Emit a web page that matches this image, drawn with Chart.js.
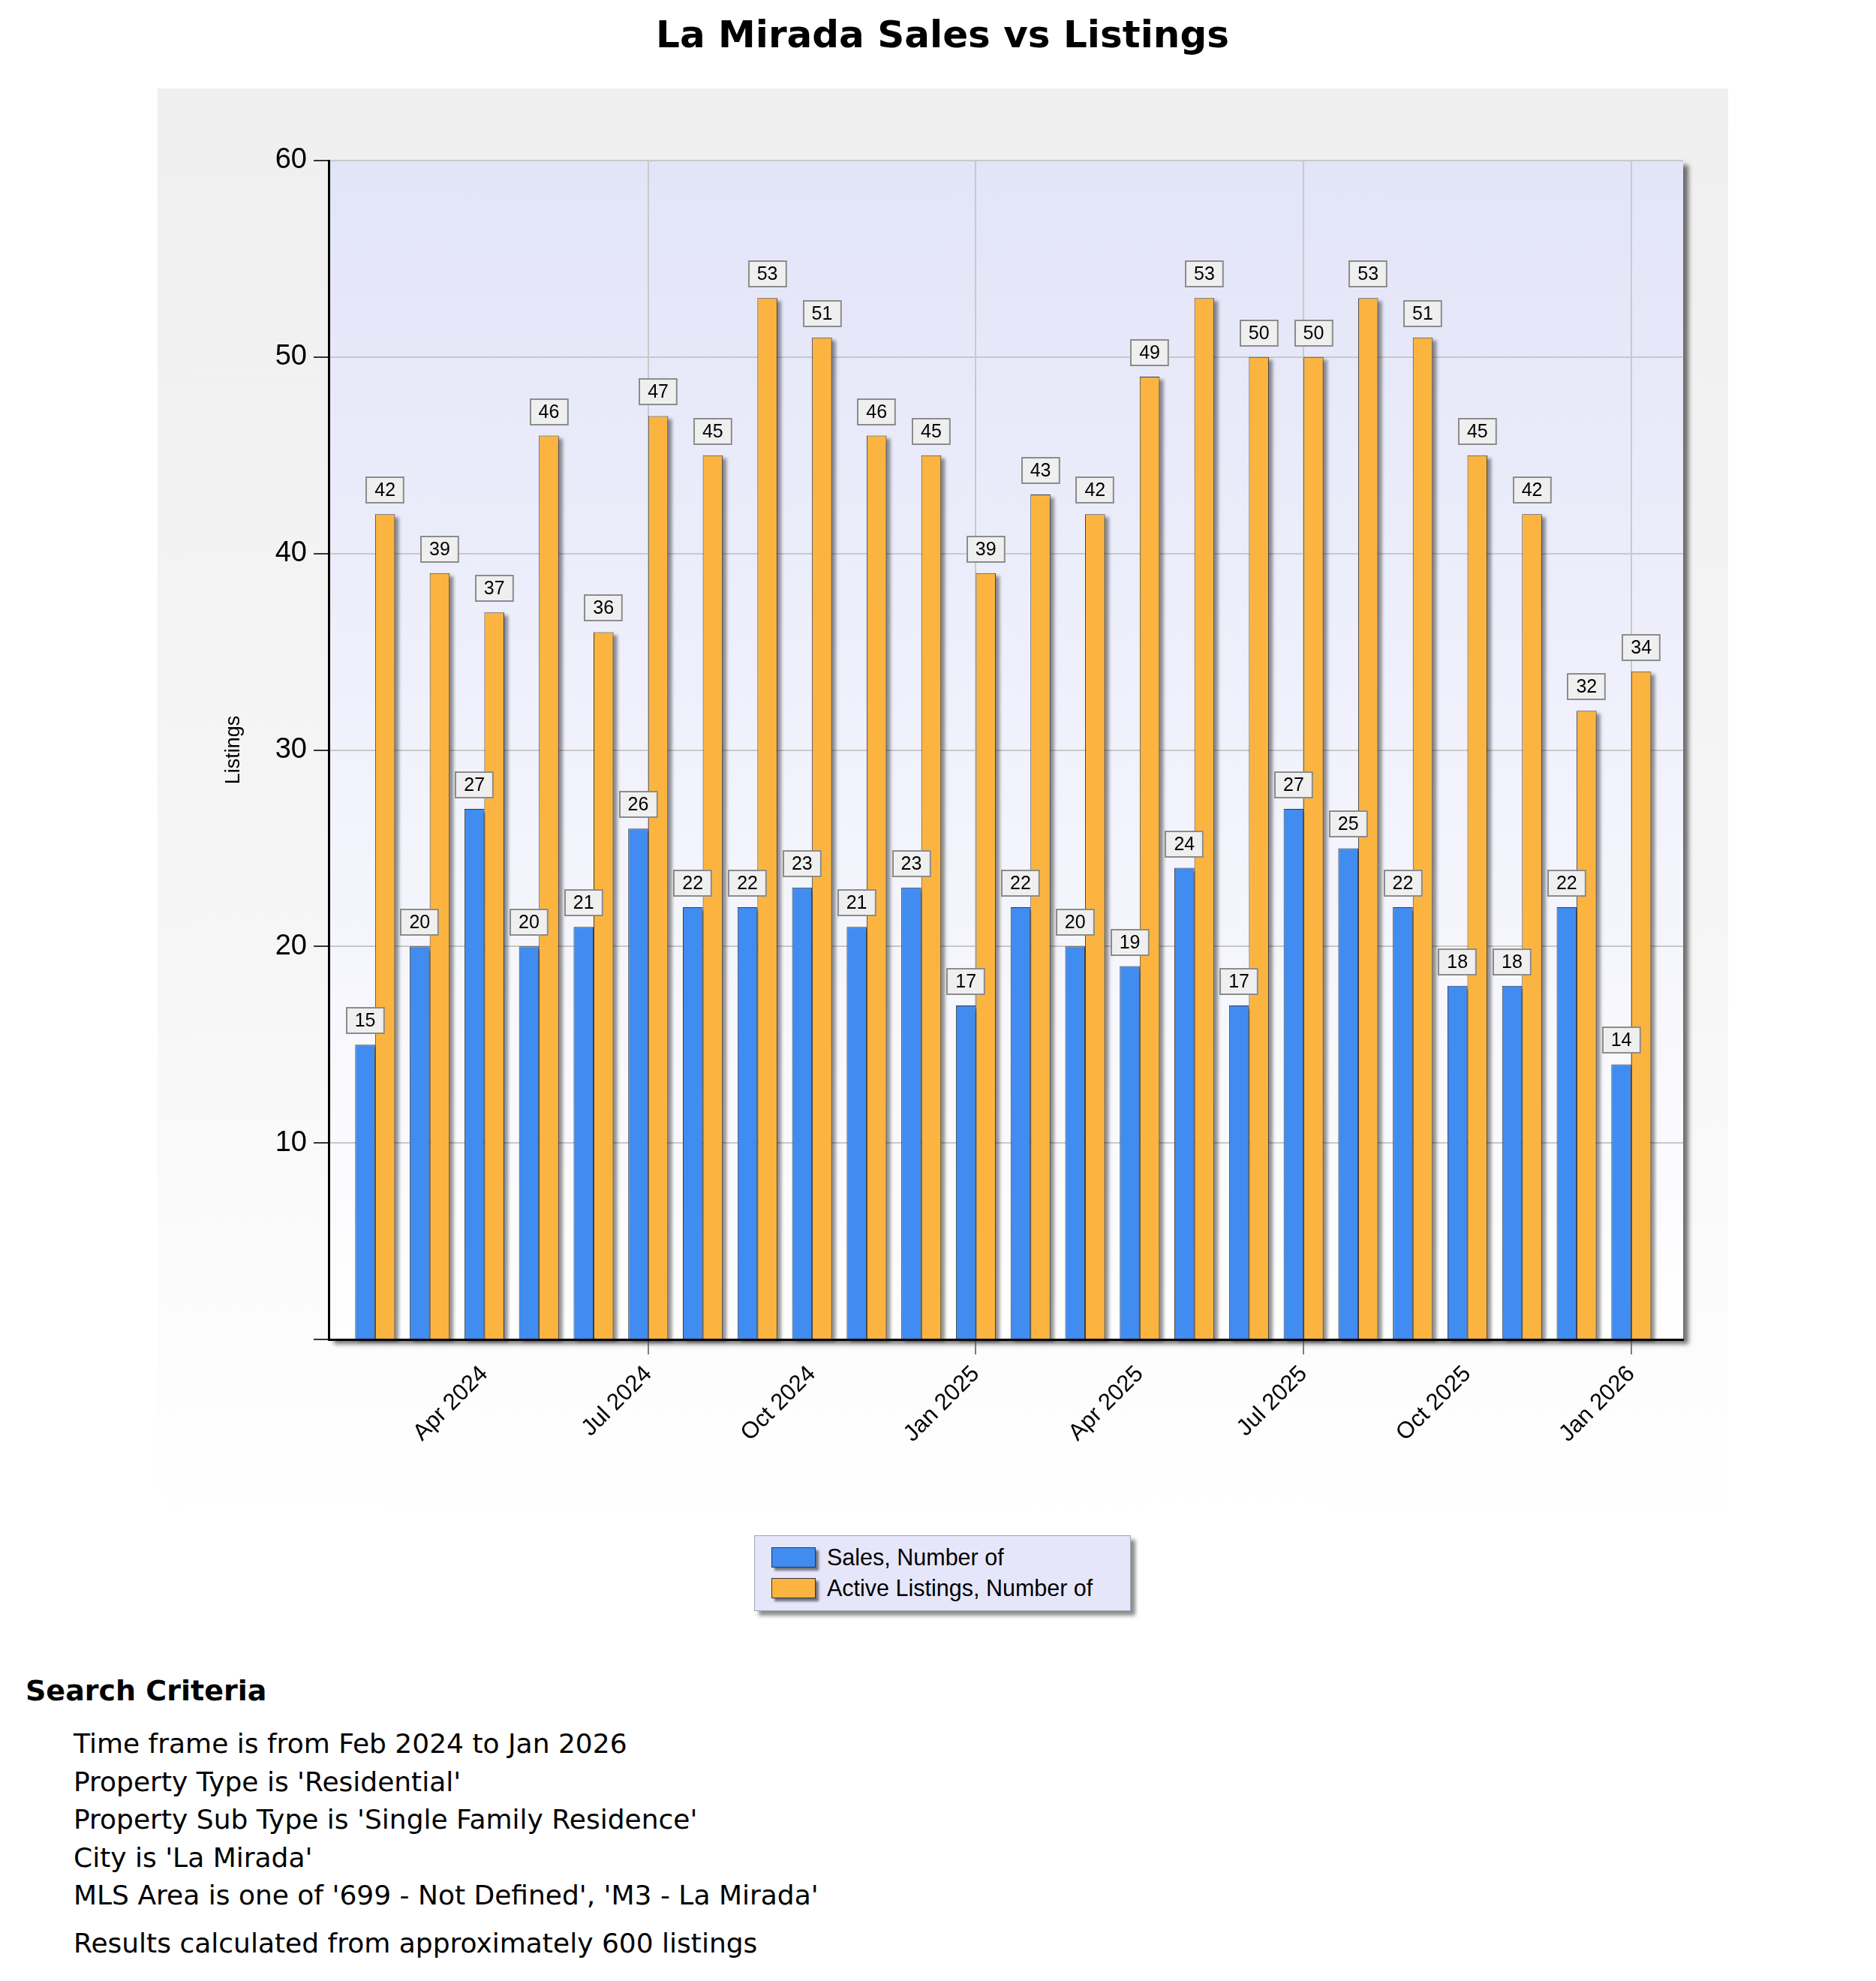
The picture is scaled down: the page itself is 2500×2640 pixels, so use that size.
<!DOCTYPE html>
<html>
<head>
<meta charset="utf-8">
<title>La Mirada Sales vs Listings</title>
<script src="https://cdn.jsdelivr.net/npm/chart.js@4.4.1/dist/chart.umd.min.js"></script>
<style>
  body { margin: 0; background: #fff; width: 2500px; height: 2640px; position: relative; overflow: hidden; }
  #title { position: absolute; left: 0; width: 2512px; top: 17px; line-height: 60px; text-align: center;
           font: bold 50px "DejaVu Sans", Verdana, sans-serif; color: #000; }
  #panel { position: absolute; left: 210px; top: 118px; width: 2093px; height: 1900px;
           background: linear-gradient(to bottom, #efefef 0%, #f6f6f6 60%, #ffffff 100%); }
  #legend { position: absolute; left: 1005px; top: 2046px; width: 502px; height: 101px; box-sizing: border-box;
            background: #e6e6fa; border: 1px solid #a4a4b4; box-shadow: 6px 6px 5px rgba(0,0,0,0.45); }
  .row { position: absolute; left: 22px; height: 30px; display: flex; align-items: center;
         font: 30.5px "Liberation Sans", Arial, sans-serif; color: #000; }
  .sw { width: 59px; height: 27px; box-sizing: border-box; border: 1px solid #333; margin-right: 15px;
        box-shadow: 4px 4px 3px rgba(0,0,0,0.5); }
  #criteria { position: absolute; left: 34px; top: 2229px; font-family: "DejaVu Sans", Verdana, sans-serif; color: #000; }
  #criteria h2 { margin: 0 0 22px 0; font-size: 38px; line-height: 48px; font-weight: bold; }
  #criteria div { margin-left: 64px; font-size: 36px; line-height: 50.5px; }
  #criteria .last { margin-top: 13px; }
</style>
</head>
<body>
<div id="title">La Mirada Sales vs Listings</div>
<div id="panel"><canvas id="chart" width="2093" height="1900"></canvas></div>
<div id="legend"></div>
<div id="criteria"></div>

<script>
const months = ['Feb 2024', 'Mar 2024', 'Apr 2024', 'May 2024', 'Jun 2024', 'Jul 2024',
                'Aug 2024', 'Sep 2024', 'Oct 2024', 'Nov 2024', 'Dec 2024', 'Jan 2025',
                'Feb 2025', 'Mar 2025', 'Apr 2025', 'May 2025', 'Jun 2025', 'Jul 2025',
                'Aug 2025', 'Sep 2025', 'Oct 2025', 'Nov 2025', 'Dec 2025', 'Jan 2026'];
const salesCounts = [15, 20, 27, 20, 21, 26, 22, 22, 23, 21, 23, 17,
                     22, 20, 19, 24, 17, 27, 25, 22, 18, 18, 22, 14];
const activeListings = [42, 39, 37, 46, 36, 47, 45, 53, 51, 46, 45, 39,
                        43, 42, 49, 53, 50, 50, 53, 51, 45, 42, 32, 34];
const seriesNames = ['Sales, Number of', 'Active Listings, Number of'];
const seriesColors = ['#418cf0', '#fcb441'];
const xTickLabels = ['Apr 2024', 'Jul 2024', 'Oct 2024', 'Jan 2025', 'Apr 2025', 'Jul 2025', 'Oct 2025', 'Jan 2026'];
const xGridLabels = ['Jul 2024', 'Jan 2025', 'Jul 2025', 'Jan 2026'];
const yTicks = [0, 10, 20, 30, 40, 50, 60];
const criteriaLines = [
  'Time frame is from Feb 2024 to Jan 2026',
  "Property Type is 'Residential'",
  "Property Sub Type is 'Single Family Residence'",
  "City is 'La Mirada'",
  "MLS Area is one of '699 - Not Defined', 'M3 - La Mirada'"
];
const resultsLine = 'Results calculated from approximately 600 listings';

const FONT = '"Liberation Sans", Arial, sans-serif';
Chart.defaults.font.family = FONT;
Chart.defaults.color = '#000';

function isGridTick(ctx) {
  return ctx.tick && xGridLabels.includes(months[ctx.tick.value]);
}

// plot area background with drop shadow
const plotBackground = {
  id: 'plotBackground',
  beforeDraw(chart) {
    const { ctx, chartArea: a } = chart;
    ctx.save();
    const g = ctx.createLinearGradient(0, a.top, 0, a.bottom);
    g.addColorStop(0, '#e2e4f8');
    g.addColorStop(1, '#ffffff');
    ctx.shadowColor = 'rgba(0,0,0,0.55)';
    ctx.shadowOffsetX = 7;
    ctx.shadowOffsetY = 6;
    ctx.shadowBlur = 6;
    ctx.fillStyle = g;
    ctx.fillRect(a.left, a.top, a.right - a.left, a.bottom - a.top);
    ctx.restore();
  }
};

// shadows behind every bar, drawn before the bars themselves
const barShadow = {
  id: 'barShadow',
  beforeDatasetsDraw(chart) {
    const ctx = chart.ctx;
    ctx.save();
    ctx.fillStyle = 'rgba(0,0,0,0.42)';
    ctx.filter = 'blur(2px)';
    chart.data.datasets.forEach((d, i) => {
      chart.getDatasetMeta(i).data.forEach(bar => {
        ctx.fillRect(bar.x - bar.width / 2 + 5, bar.y + 4, bar.width, bar.base - bar.y);
      });
    });
    ctx.restore();
  }
};

// value boxes above the bars
const valueBoxes = {
  id: 'valueBoxes',
  afterDatasetsDraw(chart) {
    const ctx = chart.ctx;
    ctx.save();
    ctx.font = '25px ' + FONT;
    ctx.textAlign = 'center';
    ctx.textBaseline = 'middle';
    chart.data.datasets.forEach((d, i) => {
      chart.getDatasetMeta(i).data.forEach((bar, j) => {
        const txt = String(d.data[j].y);
        const w = ctx.measureText(txt).width + 22;
        const h = 34;
        const bx = Math.round(bar.x - w / 2);
        const by = Math.round(bar.y - 15 - h);
        ctx.fillStyle = '#efefef';
        ctx.fillRect(bx, by, w, h);
        ctx.strokeStyle = '#8c8c8c';
        ctx.lineWidth = 2;
        ctx.strokeRect(bx, by, w, h);
        ctx.fillStyle = '#000';
        ctx.fillText(txt, bar.x, by + h / 2 + 1);
      });
    });
    ctx.restore();
  }
};

const datasets = [salesCounts, activeListings].map((values, i) => ({
  label: seriesNames[i],
  data: values.map((v, k) => ({ x: k, y: v })),
  backgroundColor: seriesColors[i],
  borderColor: '#3a3a3a',
  borderWidth: 1,
  categoryPercentage: 0.73,
  barPercentage: 1.0,
  clip: false
}));

new Chart(document.getElementById('chart'), {
  type: 'bar',
  data: { datasets: datasets },
  options: {
    responsive: false,
    devicePixelRatio: 1,
    animation: false,
    layout: { padding: { left: 0, top: 96, right: 60, bottom: 0 } },
    plugins: { legend: { display: false }, tooltip: { enabled: false } },
    scales: {
      x: {
        type: 'linear',
        offset: false,
        min: -0.85,
        max: 23.95,
        afterBuildTicks: scale => { scale.ticks = xTickLabels.map(l => ({ value: months.indexOf(l) })); },
        afterFit: scale => { scale.height = 233; },
        ticks: {
          autoSkip: false,
          minRotation: 45,
          maxRotation: 45,
          padding: 8,
          font: { size: 31 },
          callback: v => months[v]
        },
        grid: {
          offset: false,
          color: c => isGridTick(c) ? '#c9c9c9' : 'rgba(0,0,0,0)',
          lineWidth: 2,
          tickLength: 20,
          tickColor: c => isGridTick(c) ? '#555' : 'rgba(0,0,0,0)',
          tickWidth: 1.5
        },
        border: { color: '#000', width: 3, z: 1 }
      },
      y: {
        min: 0,
        max: 60,
        afterBuildTicks: scale => { scale.ticks = yTicks.map(v => ({ value: v })); },
        afterFit: scale => { scale.width = 228; },
        ticks: {
          padding: 9,
          font: { size: 38 },
          callback: v => v === 0 ? '' : v
        },
        grid: { color: '#c9c9c9', lineWidth: 2, tickLength: 20, tickColor: '#333', tickWidth: 2 },
        border: { color: '#000', width: 3, z: 1 },
        title: { display: true, text: 'Listings', font: { size: 27 }, padding: { top: 85, bottom: 0 } }
      }
    }
  },
  plugins: [plotBackground, barShadow, valueBoxes]
});

// legend
const legend = document.getElementById('legend');
seriesNames.forEach((name, i) => {
  const row = document.createElement('div');
  row.className = 'row';
  row.style.top = (13 + i * 41) + 'px';
  const sw = document.createElement('span');
  sw.className = 'sw';
  sw.style.background = seriesColors[i];
  row.appendChild(sw);
  row.appendChild(document.createTextNode(name));
  legend.appendChild(row);
});

// search criteria text
const crit = document.getElementById('criteria');
const h = document.createElement('h2');
h.textContent = 'Search Criteria';
crit.appendChild(h);
criteriaLines.concat([resultsLine]).forEach((line, i) => {
  const d = document.createElement('div');
  d.textContent = line;
  if (i === criteriaLines.length) d.className = 'last';
  crit.appendChild(d);
});
</script>
</body>
</html>
